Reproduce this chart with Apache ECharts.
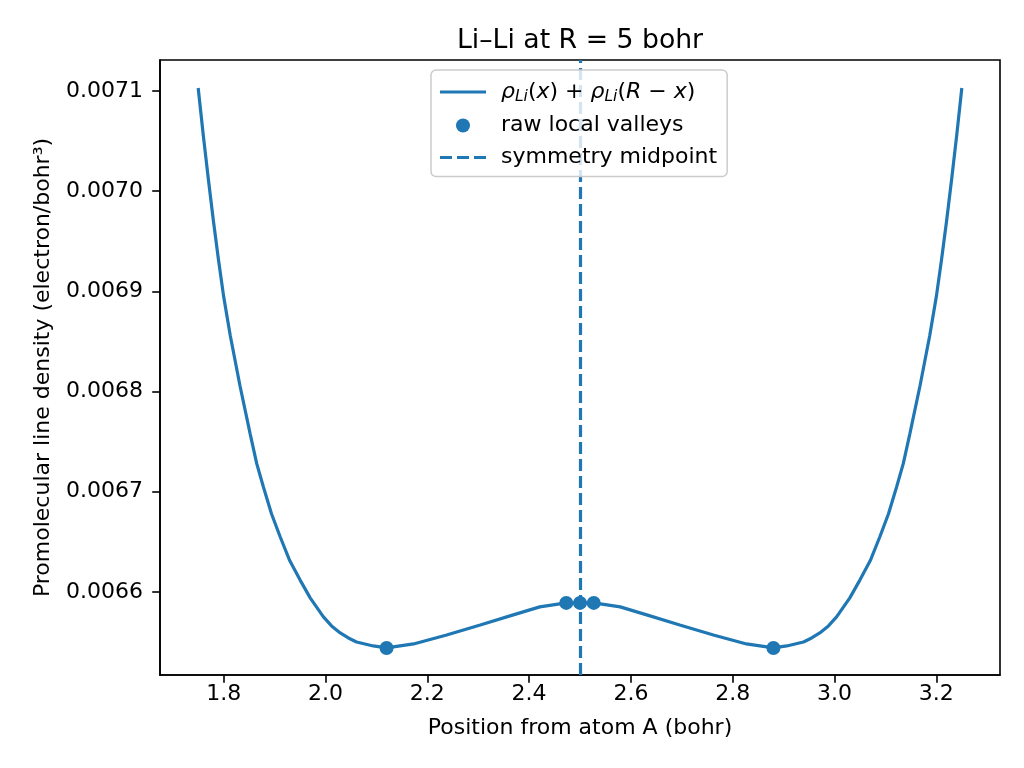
<!DOCTYPE html>
<html>
<head>
<meta charset="utf-8">
<script src="https://cdn.jsdelivr.net/npm/echarts@6/dist/echarts.min.js"></script>
<style>
  html, body { margin: 0; padding: 0; background: #fff; }
  #chart { width: 1024px; height: 768px; }
</style>
</head>
<body>
<div id="chart"></div>
<script>
// curve samples (position in bohr, density)
const curveX = [
  1.750, 1.760, 1.770, 1.780, 1.790, 1.800, 1.813, 1.832, 1.852, 1.865,
  1.878, 1.894, 1.911, 1.930, 1.950, 1.970, 1.996, 2.012, 2.029, 2.045,
  2.061, 2.094, 2.120, 2.173, 2.238, 2.304, 2.369, 2.421, 2.473, 2.500,
  2.527, 2.579, 2.631, 2.696, 2.762, 2.827, 2.880, 2.906, 2.939, 2.955,
  2.971, 2.988, 3.004, 3.030, 3.050, 3.070, 3.089, 3.106, 3.122, 3.135,
  3.148, 3.168, 3.187, 3.200, 3.210, 3.220, 3.230, 3.240, 3.250
]
const curveY = [
  0.007103, 0.007056, 0.007012, 0.006970, 0.006931, 0.006895, 0.006856, 0.006806, 0.006758, 0.006728,
  0.006705, 0.006678, 0.006655, 0.006631, 0.006612, 0.006594, 0.006575, 0.006566, 0.006559, 0.006554,
  0.006550, 0.006546, 0.006544, 0.006548, 0.006557, 0.006567, 0.006577, 0.006585, 0.006589, 0.006589,
  0.006589, 0.006585, 0.006577, 0.006567, 0.006557, 0.006548, 0.006544, 0.006546, 0.006550, 0.006554,
  0.006559, 0.006566, 0.006575, 0.006594, 0.006612, 0.006631, 0.006655, 0.006678, 0.006705, 0.006728,
  0.006758, 0.006806, 0.006856, 0.006895, 0.006931, 0.006970, 0.007012, 0.007056, 0.007103
]

// raw local valleys
const valleyX = [2.120, 2.473, 2.500, 2.527, 2.880]
const valleyY = [0.006544, 0.006589, 0.006589, 0.006589, 0.006544]

const midpointX = 2.5

const xTicks = [1.8, 2.0, 2.2, 2.4, 2.6, 2.8, 3.0, 3.2]
const yTicks = [0.0066, 0.0067, 0.0068, 0.0069, 0.0070, 0.0071]

const blue = '#1f77b4'
const font = 'DejaVu Sans'

const chart = echarts.init(document.getElementById('chart'))

const option = {
  backgroundColor: '#fff',
  animation: false,
  title: {
    text: 'Li–Li at R = 5 bohr',
    left: 575,
    textAlign: 'center',
    top: 23,
    textStyle: { fontFamily: font, fontSize: 26.7, fontWeight: 'normal', color: '#000' }
  },
  grid: {
    left: 160,
    right: 24,
    top: 60,
    bottom: 93,
    show: true,
    borderColor: '#000',
    borderWidth: 1.6,
    backgroundColor: 'transparent'
  },
  legend: {
    orient: 'vertical',
    left: 431,
    top: 70,
    padding: [11, 10, 8, 9],
    itemGap: 10,
    itemWidth: 46,
    itemHeight: 14,
    backgroundColor: 'rgba(255,255,255,0.8)',
    borderColor: '#cccccc',
    borderWidth: 1.5,
    borderRadius: 5,
    z: 10,
    data: [
      { name: 'density', icon: 'path://M0,0L46,0L46,3.2L0,3.2Z', itemStyle: { color: blue } },
      { name: 'raw local valleys', icon: 'circle' },
      {
        name: 'symmetry midpoint',
        icon: 'path://M0,0L12,0L12,3.2L0,3.2Z M17,0L29,0L29,3.2L17,3.2Z M34,0L46,0L46,3.2L34,3.2Z',
        itemStyle: { color: blue }
      }
    ],
    formatter: function (name) {
      if (name === 'density') {
        return '{it|ρ}{sub|Li}{n|(}{it|x}{n|) + }{it|ρ}{sub|Li}{n|(}{it|R}{n| − }{it|x}{n|)}'
      }
      return '{n|' + name + '}'
    },
    textStyle: {
      fontFamily: font,
      fontSize: 22,
      color: '#000',
      padding: [0, 0, 0, 10],
      rich: {
        n: { fontFamily: font, fontSize: 22, color: '#000' },
        it: { fontFamily: font, fontSize: 22, fontStyle: 'italic', color: '#000' },
        sub: { fontFamily: font, fontSize: 15.5, fontStyle: 'italic', color: '#000', verticalAlign: 'bottom', padding: [9, 0, 0, 0] }
      }
    }
  },
  xAxis: {
    type: 'value',
    min: 1.675,
    max: 3.325,
    name: 'Position from atom A (bohr)',
    nameLocation: 'middle',
    nameGap: 42,
    nameTextStyle: { fontFamily: font, fontSize: 22, color: '#000' },
    splitLine: { show: false },
    axisLine: { show: true, onZero: false, lineStyle: { color: '#000', width: 1.6 } },
    axisTick: {
      show: true,
      length: 7.8,
      lineStyle: { color: '#000', width: 1.6 },
      customValues: xTicks
    },
    axisLabel: {
      customValues: xTicks,
      margin: 8,
      fontFamily: font,
      fontSize: 22,
      color: '#000',
      formatter: v => v.toFixed(1)
    }
  },
  yAxis: {
    type: 'value',
    min: 0.006517,
    max: 0.007131,
    name: 'Promolecular line density (electron/bohr³)',
    nameLocation: 'middle',
    nameRotate: 90,
    nameGap: 106,
    nameTextStyle: { fontFamily: font, fontSize: 22, color: '#000' },
    splitLine: { show: false },
    axisLine: { show: true, onZero: false, lineStyle: { color: '#000', width: 1.6 } },
    axisTick: {
      show: true,
      length: 7.8,
      lineStyle: { color: '#000', width: 1.6 },
      customValues: yTicks
    },
    axisLabel: {
      customValues: yTicks,
      margin: 17,
      fontFamily: font,
      fontSize: 22,
      color: '#000',
      formatter: v => v.toFixed(4)
    }
  },
  series: [
    {
      name: 'density',
      type: 'line',
      data: curveX.map((x, i) => [x, curveY[i]]),
      showSymbol: false,
      symbol: 'none',
      smooth: false,
      lineStyle: { color: blue, width: 3.2 },
      itemStyle: { color: blue },
      z: 2
    },
    {
      name: 'raw local valleys',
      type: 'scatter',
      data: valleyX.map((x, i) => [x, valleyY[i]]),
      symbol: 'circle',
      symbolSize: 14,
      itemStyle: { color: blue, opacity: 1 },
      z: 4
    },
    {
      name: 'symmetry midpoint',
      type: 'line',
      data: [],
      symbol: 'none',
      lineStyle: { color: blue, width: 3.2, type: [12, 5] },
      itemStyle: { color: blue },
      markLine: {
        silent: true,
        symbol: ['none', 'none'],
        label: { show: false },
        lineStyle: { color: blue, width: 3.2, type: [12, 5] },
        data: [{ xAxis: midpointX }]
      },
      z: 3
    }
  ]
}

chart.setOption(option)
</script>
</body>
</html>
